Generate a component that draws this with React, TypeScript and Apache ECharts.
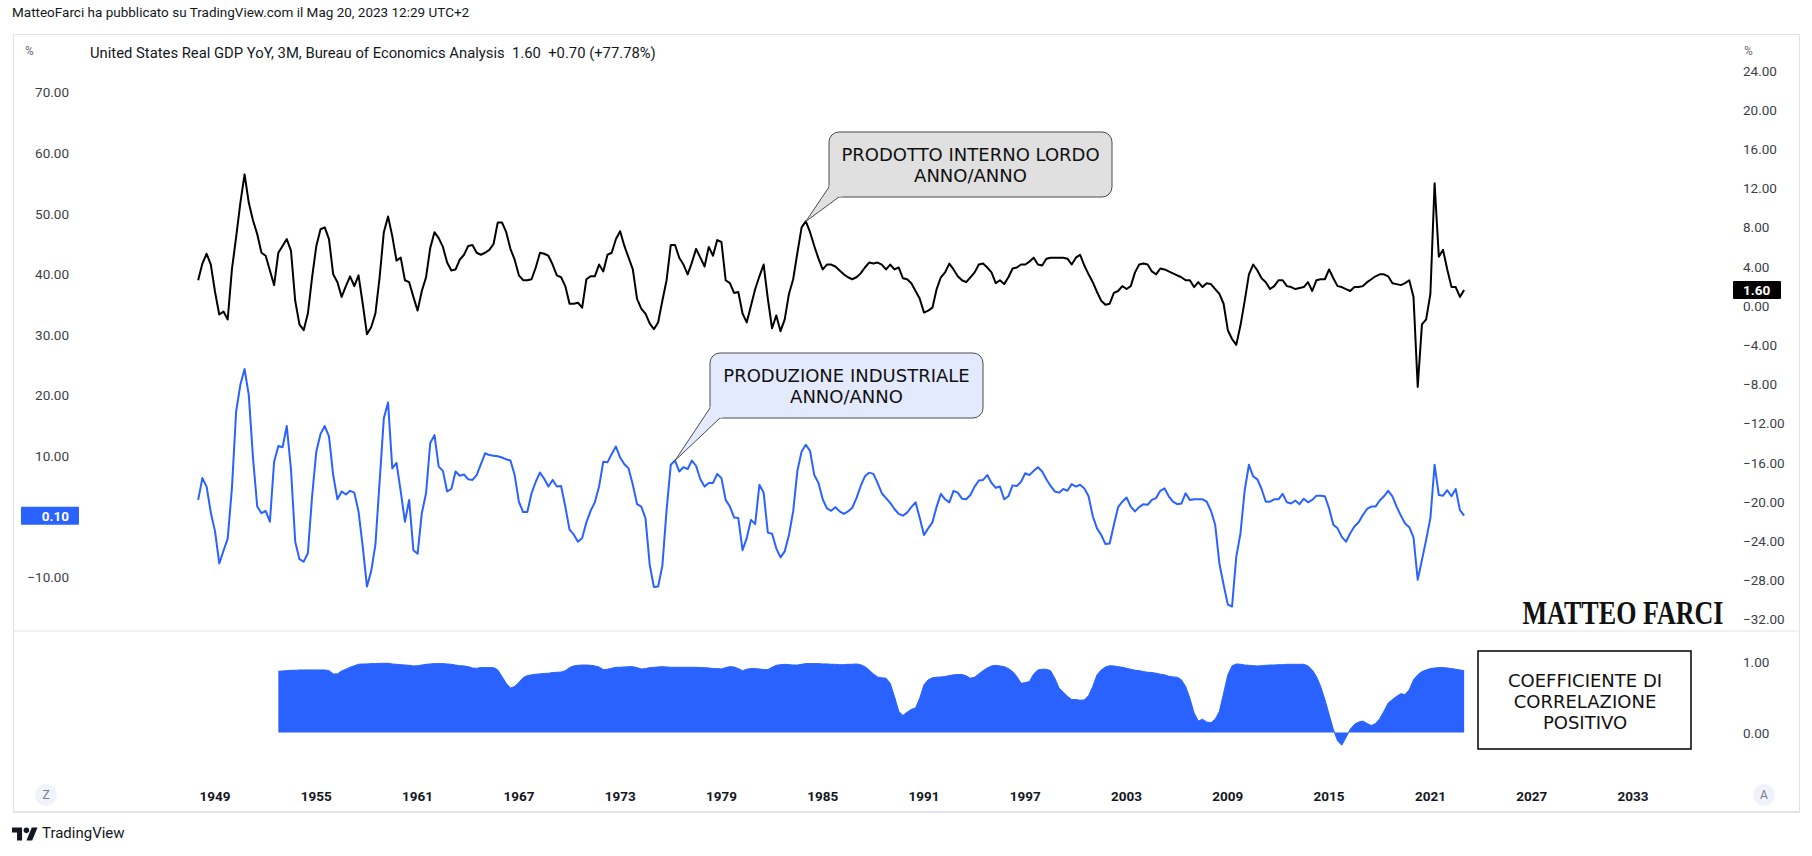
import React, { useEffect, useRef } from "react";
import * as echarts from "echarts";

// ---------- DATA (quarterly, first point = 1948 Q1) ----------
const START_YEAR = 1948;
const CORR_START_YEAR = 1952.75; // 1952 Q4

// United States Real GDP YoY (%), quarterly 1948 Q1 .. 2023 Q1
const gdpYoY: number[] = [
  2.6, 4.3, 5.3, 4.2, // 1948
  1.4, -0.9, -0.6, -1.4, // 1949
  3.7, 7.0, 10.5, 13.4, // 1950
  10.5, 8.7, 7.3, 5.4, // 1951
  5.1, 3.6, 2.1, 5.4, // 1952
  6.1, 6.8, 5.6, 0.5, // 1953
  -1.9, -2.5, -0.8, 2.9, // 1954
  6.1, 7.8, 8.0, 6.8, // 1955
  3.2, 2.4, 0.9, 2.0, // 1956
  3.0, 2.0, 3.1, 0.2, // 1957
  -2.9, -2.2, -0.8, 2.9, // 1958
  7.5, 9.1, 7.1, 4.6, // 1959
  4.9, 2.6, 2.4, 0.9, // 1960
  -0.5, 1.5, 2.9, 5.9, // 1961
  7.5, 6.9, 6.0, 4.4, // 1962
  3.6, 3.7, 4.7, 5.2, // 1963
  6.1, 6.2, 5.4, 5.2, // 1964
  5.4, 5.7, 6.3, 8.5, // 1965
  8.5, 7.5, 5.8, 4.7, // 1966
  3.1, 2.6, 2.6, 2.7, // 1967
  3.9, 5.4, 5.3, 5.1, // 1968
  4.2, 3.1, 2.9, 2.0, // 1969
  0.2, 0.2, 0.3, -0.2, // 1970
  2.7, 3.0, 3.0, 4.2, // 1971
  3.5, 5.2, 5.4, 6.8, // 1972
  7.6, 6.1, 4.9, 3.7, // 1973
  0.7, -0.3, -0.8, -1.8, // 1974
  -2.4, -1.7, 0.5, 2.6, // 1975
  6.2, 6.2, 4.9, 4.2, // 1976
  3.2, 4.4, 5.8, 4.9, // 1977
  4.0, 6.0, 5.1, 6.7, // 1978
  6.5, 2.6, 2.3, 1.3, // 1979
  1.4, -0.8, -1.7, 0.0, // 1980
  1.7, 3.0, 4.2, 0.7, // 1981
  -2.3, -1.0, -2.6, -1.4, // 1982
  1.2, 2.7, 5.4, 8.0, // 1983
  8.6, 7.5, 6.1, 4.8, // 1984
  3.7, 4.2, 4.2, 4.0, // 1985
  3.6, 3.2, 2.9, 2.7, // 1986
  2.9, 3.3, 3.9, 4.4, // 1987
  4.3, 4.4, 4.2, 3.7, // 1988
  4.2, 3.7, 3.9, 2.8, // 1989
  2.7, 2.3, 1.5, 0.7, // 1990
  -0.7, -0.5, -0.2, 1.7, // 1991
  2.9, 3.4, 4.3, 3.7, // 1992
  3.0, 2.6, 2.4, 2.9, // 1993
  3.4, 4.2, 4.3, 3.9, // 1994
  3.4, 2.3, 2.6, 2.2, // 1995
  2.9, 3.8, 3.9, 4.2, // 1996
  4.2, 4.5, 4.9, 4.2, // 1997
  4.1, 4.8, 4.9, 4.9, // 1998
  4.9, 4.9, 4.8, 4.2, // 1999
  4.9, 5.2, 4.1, 3.2, // 2000
  2.4, 1.4, 0.5, 0.1, // 2001
  0.2, 1.3, 1.5, 2.0, // 2002
  1.7, 2.0, 3.4, 4.2, // 2003
  4.3, 4.2, 3.5, 3.2, // 2004
  3.8, 3.7, 3.5, 3.3, // 2005
  3.1, 2.9, 2.6, 2.6, // 2006
  1.9, 2.4, 1.9, 2.3, // 2007
  2.2, 1.7, 1.2, 0.2, // 2008
  -2.5, -3.4, -4.0, -2.0, // 2009
  0.5, 3.2, 4.2, 3.6, // 2010
  2.8, 2.4, 1.7, 2.0, // 2011
  2.6, 2.6, 2.0, 1.9, // 2012
  1.7, 1.8, 1.9, 2.4, // 2013
  1.5, 2.6, 2.7, 2.7, // 2014
  3.7, 2.8, 2.0, 1.9, // 2015
  1.7, 1.5, 1.9, 1.9, // 2016
  2.0, 2.4, 2.7, 3.0, // 2017
  3.2, 3.2, 3.0, 2.3, // 2018
  2.2, 2.1, 2.3, 2.6, // 2019
  0.9, -8.3, -1.9, -1.4, // 2020
  1.2, 12.5, 5.0, 5.7, // 2021
  3.7, 1.9, 1.9, 0.9, // 2022
  1.6, // 2023
];

// US Industrial Production YoY (%), quarterly 1948 Q1 .. 2023 Q1
const ipYoY: number[] = [
  2.7, 6.3, 4.9, 0.6, // 1948
  -2.5, -7.8, -5.7, -3.7, // 1949
  4.6, 17.3, 21.7, 24.3, // 1950
  20.0, 9.6, 1.6, 0.5, // 1951
  0.9, -0.9, 9.0, 11.6, // 1952
  11.4, 14.9, 7.7, -4.2, // 1953
  -7.1, -7.5, -6.1, 3.3, // 1954
  10.7, 13.6, 14.9, 13.2, // 1955
  6.8, 2.8, 4.1, 3.6, // 1956
  4.2, 3.9, 0.8, -5.0, // 1957
  -11.6, -9.1, -4.7, 5.7, // 1958
  16.2, 18.8, 7.9, 8.8, // 1959
  4.1, -0.9, 2.7, -5.6, // 1960
  -6.2, 0.5, 3.8, 12.1, // 1961
  13.4, 8.2, 7.5, 4.1, // 1962
  4.5, 7.4, 6.7, 6.9, // 1963
  6.1, 6.0, 6.8, 8.6, // 1964
  10.4, 10.1, 10.0, 9.9, // 1965
  9.7, 9.4, 9.2, 6.8, // 1966
  2.4, 0.7, 0.7, 3.8, // 1967
  5.7, 7.2, 6.2, 4.9, // 1968
  6.0, 4.9, 5.0, 1.6, // 1969
  -2.2, -3.0, -4.2, -3.6, // 1970
  -1.0, 0.9, 2.3, 4.9, // 1971
  9.0, 8.9, 10.3, 11.5, // 1972
  9.7, 8.6, 7.9, 5.2, // 1973
  2.0, 1.6, -0.3, -8.0, // 1974
  -11.7, -11.6, -8.2, 1.0, // 1975
  8.5, 9.2, 7.4, 8.1, // 1976
  7.8, 9.2, 8.3, 6.1, // 1977
  4.9, 5.5, 5.5, 7.0, // 1978
  6.3, 2.7, 1.6, -0.2, // 1979
  -0.3, -5.6, -3.6, -0.6, // 1980
  -1.3, 5.2, 3.9, -2.7, // 1981
  -2.9, -5.3, -6.8, -5.8, // 1982
  -3.1, 0.8, 7.5, 10.7, // 1983
  11.8, 10.8, 6.8, 5.5, // 1984
  2.8, 1.3, 0.9, 1.5, // 1985
  0.8, 0.4, 0.8, 1.4, // 1986
  3.0, 5.0, 6.6, 7.2, // 1987
  7.0, 5.5, 3.8, 3.0, // 1988
  2.2, 1.2, 0.4, 0.1, // 1989
  0.6, 1.5, 2.3, -0.3, // 1990
  -3.1, -2.0, -1.0, 1.6, // 1991
  3.7, 2.8, 2.3, 4.2, // 1992
  3.9, 2.9, 2.8, 3.5, // 1993
  4.9, 5.9, 6.0, 6.8, // 1994
  5.5, 4.7, 4.9, 2.8, // 1995
  3.3, 5.1, 5.0, 5.7, // 1996
  7.1, 6.8, 7.5, 8.1, // 1997
  7.4, 6.1, 5.0, 4.1, // 1998
  3.9, 4.5, 4.2, 5.3, // 1999
  4.9, 5.2, 4.6, 3.3, // 2000
  0.0, -2.0, -3.1, -4.6, // 2001
  -4.5, -1.4, 1.5, 2.4, // 2002
  3.1, 1.6, 0.8, 1.5, // 2003
  2.0, 1.9, 2.7, 3.0, // 2004
  4.2, 4.6, 3.3, 2.4, // 2005
  2.0, 2.1, 3.8, 2.7, // 2006
  2.8, 2.8, 2.8, 2.4, // 2007
  0.9, -1.4, -7.8, -11.3, // 2008
  -14.6, -14.9, -6.7, -2.8, // 2009
  4.3, 8.5, 6.6, 6.1, // 2010
  4.5, 2.4, 2.4, 2.8, // 2011
  2.8, 3.7, 2.3, 2.1, // 2012
  2.6, 2.0, 2.9, 2.3, // 2013
  2.7, 3.4, 3.4, 3.3, // 2014
  1.3, -1.4, -2.0, -3.4, // 2015
  -4.2, -2.8, -1.7, -1.0, // 2016
  0.2, 1.2, 1.6, 1.6, // 2017
  2.6, 3.3, 4.2, 3.3, // 2018
  1.6, 0.1, -1.2, -1.8, // 2019
  -3.5, -10.5, -7.2, -3.9, // 2020
  -0.3, 8.5, 3.5, 3.4, // 2021
  4.3, 3.3, 4.5, 1.0, // 2022
  0.1, // 2023
];

// Correlation coefficient (GDP vs IP), quarterly 1952 Q4 .. 2023 Q1
const corrCoef: number[] = [
  0.872, // 1952 Q4
  0.876, 0.88, 0.885, 0.885, // 1953
  0.89, 0.89, 0.89, 0.89, // 1954
  0.89, 0.89, 0.89, 0.88, // 1955
  0.834, 0.834, 0.876, 0.9, // 1956
  0.928, 0.95, 0.97, 0.975, // 1957
  0.975, 0.98, 0.98, 0.984, // 1958
  0.984, 0.984, 0.975, 0.97, // 1959
  0.965, 0.96, 0.956, 0.947, // 1960
  0.95, 0.96, 0.97, 0.975, // 1961
  0.98, 0.98, 0.98, 0.975, // 1962
  0.97, 0.96, 0.95, 0.947, // 1963
  0.937, 0.918, 0.914, 0.923, // 1964
  0.923, 0.923, 0.923, 0.89, // 1965
  0.797, 0.7, 0.633, 0.656, // 1966
  0.712, 0.78, 0.81, 0.82, // 1967
  0.83, 0.834, 0.84, 0.843, // 1968
  0.853, 0.857, 0.86, 0.88, // 1969
  0.923, 0.947, 0.956, 0.96, // 1970
  0.96, 0.956, 0.947, 0.932, // 1971
  0.895, 0.9, 0.914, 0.928, // 1972
  0.928, 0.932, 0.937, 0.937, // 1973
  0.923, 0.904, 0.909, 0.923, // 1974
  0.928, 0.932, 0.937, 0.932, // 1975
  0.928, 0.928, 0.928, 0.928, // 1976
  0.928, 0.928, 0.928, 0.923, // 1977
  0.923, 0.918, 0.909, 0.909, // 1978
  0.904, 0.923, 0.937, 0.932, // 1979
  0.909, 0.88, 0.9, 0.909, // 1980
  0.909, 0.904, 0.895, 0.895, // 1981
  0.928, 0.956, 0.965, 0.97, // 1982
  0.965, 0.96, 0.96, 0.97, // 1983
  0.98, 0.98, 0.98, 0.98, // 1984
  0.975, 0.975, 0.97, 0.97, // 1985
  0.965, 0.965, 0.97, 0.97, // 1986
  0.975, 0.965, 0.937, 0.89, // 1987
  0.834, 0.79, 0.778, 0.773, // 1988
  0.7, 0.515, 0.305, 0.244, // 1989
  0.29, 0.33, 0.35, 0.49, // 1990
  0.68, 0.75, 0.778, 0.787, // 1991
  0.79, 0.797, 0.81, 0.82, // 1992
  0.825, 0.825, 0.806, 0.773, // 1993
  0.787, 0.834, 0.88, 0.918, // 1994
  0.947, 0.956, 0.947, 0.937, // 1995
  0.909, 0.867, 0.797, 0.7, // 1996
  0.71, 0.726, 0.834, 0.89, // 1997
  0.9, 0.9, 0.88, 0.773, // 1998
  0.633, 0.576, 0.515, 0.469, // 1999
  0.469, 0.46, 0.464, 0.525, // 2000
  0.656, 0.82, 0.89, 0.932, // 2001
  0.95, 0.947, 0.937, 0.928, // 2002
  0.914, 0.9, 0.886, 0.88, // 2003
  0.867, 0.857, 0.853, 0.843, // 2004
  0.83, 0.82, 0.8, 0.79, // 2005
  0.787, 0.75, 0.656, 0.49, // 2006
  0.28, 0.164, 0.19, 0.15, // 2007
  0.14, 0.19, 0.3, 0.56, // 2008
  0.82, 0.947, 0.975, 0.97, // 2009
  0.96, 0.956, 0.95, 0.947, // 2010
  0.95, 0.956, 0.96, 0.96, // 2011
  0.965, 0.965, 0.97, 0.97, // 2012
  0.97, 0.97, 0.97, 0.947, // 2013
  0.89, 0.797, 0.656, 0.47, // 2014
  0.258, 0.047, -0.117, -0.178, // 2015
  -0.07, 0.047, 0.117, 0.15, // 2016
  0.164, 0.13, 0.1, 0.13, // 2017
  0.197, 0.305, 0.42, 0.47, // 2018
  0.515, 0.553, 0.54, 0.61, // 2019
  0.75, 0.82, 0.867, 0.89, // 2020
  0.909, 0.918, 0.923, 0.923, // 2021
  0.918, 0.909, 0.9, 0.89, // 2022
  0.88, // 2023
];

const yearLabels: number[] = [1949, 1955, 1961, 1967, 1973, 1979, 1985, 1991, 1997, 2003, 2009, 2015, 2021, 2027, 2033];
const gdpAxisTicks = { min: -32, max: 24, step: 4 };
const ipAxisTicks = { min: -10, max: 70, step: 10 };
const corrAxisTicks = { min: 0, max: 1, step: 1 };

const headerText = "MatteoFarci ha pubblicato su TradingView.com il Mag 20, 2023 12:29 UTC+2";
const seriesTitle = "United States Real GDP YoY, 3M, Bureau of Economics Analysis";
const gdpCalloutText = "PRODOTTO INTERNO LORDO\nANNO/ANNO";
const ipCalloutText = "PRODUZIONE INDUSTRIALE\nANNO/ANNO";
const corrBoxText = "COEFFICIENTE DI\nCORRELAZIONE\nPOSITIVO";
const watermarkText = "MATTEO FARCI";
const GDP_CALLOUT_Q = 144; // 1984 Q1
const IP_CALLOUT_Q = 113; // 1976 Q2

// ---------- helpers ----------
const toPoints = (vals: number[], start: number) => vals.map((v, i) => [start + i / 4, v]);
const fmt = (v: number) => (v < 0 ? "\u2212" + Math.abs(v).toFixed(2) : v.toFixed(2));

const FONT = "Roboto, 'Noto Sans', sans-serif";
const CALLOUT_FONT = "'DejaVu Sans', Verdana, sans-serif";

const X_MIN = 1941;
const X_MAX = 2038.75;
const GRID_LEFT = 80;
const GRID_WIDTH = 1650;

function textEl(text: string, x: number, y: number, opts: any = {}) {
  const align = opts.align || "left";
  const valign = opts.valign || "middle";
  return {
    type: "text",
    x,
    y,
    z: 100,
    scaleX: opts.scaleX || 1,
    style: {
      text,
      fill: opts.color || "#131722",
      fontSize: opts.size || 13,
      fontFamily: opts.family || FONT,
      fontWeight: opts.weight || "normal",
      textAlign: align,
      align,
      textVerticalAlign: valign,
      verticalAlign: valign,
      lineHeight: opts.lineHeight,
    },
  };
}

export default function App() {
  const ref = useRef<HTMLDivElement>(null);

  useEffect(() => {
    document.body.style.margin = "0";
    if (!ref.current) return;
    const chart = echarts.init(ref.current, null, { renderer: "svg" });

    const axisLabelBase = {
      color: "#3b3e47",
      fontSize: 13.5,
      fontFamily: FONT,
      formatter: (v: number) => fmt(v),
    };
    const hidden = { show: false };

    const option: any = {
      animation: false,
      backgroundColor: "#ffffff",
      grid: [
        { left: GRID_LEFT, width: GRID_WIDTH, top: 70.5, height: 548.8 },
        { left: GRID_LEFT, width: GRID_WIDTH, top: 92.4, height: 484.4 },
        { left: GRID_LEFT, width: GRID_WIDTH, top: 662.2, height: 70.4 },
      ],
      xAxis: [0, 1, 2].map((g) => ({
        type: "value",
        gridIndex: g,
        min: X_MIN,
        max: X_MAX,
        interval: 1,
        axisLine: hidden,
        axisTick: hidden,
        splitLine: hidden,
        axisLabel:
          g === 2
            ? {
                show: true,
                margin: 56,
                color: "#131722",
                fontSize: 13.5,
                fontWeight: "bold",
                fontFamily: FONT,
                formatter: (v: number) => (yearLabels.indexOf(v) >= 0 ? String(v) : ""),
              }
            : hidden,
      })),
      yAxis: [
        {
          type: "value",
          gridIndex: 0,
          position: "right",
          min: gdpAxisTicks.min,
          max: gdpAxisTicks.max,
          interval: gdpAxisTicks.step,
          axisLine: hidden,
          axisTick: hidden,
          splitLine: hidden,
          axisLabel: { ...axisLabelBase, margin: 13 },
        },
        {
          type: "value",
          gridIndex: 1,
          position: "left",
          min: ipAxisTicks.min,
          max: ipAxisTicks.max,
          interval: ipAxisTicks.step,
          axisLine: hidden,
          axisTick: hidden,
          splitLine: hidden,
          axisLabel: { ...axisLabelBase, margin: 11 },
        },
        {
          type: "value",
          gridIndex: 2,
          position: "right",
          min: corrAxisTicks.min,
          max: corrAxisTicks.max,
          interval: corrAxisTicks.step,
          axisLine: hidden,
          axisTick: hidden,
          splitLine: hidden,
          axisLabel: { ...axisLabelBase, margin: 13 },
        },
      ],
      series: [
        {
          name: "GDP YoY",
          type: "line",
          xAxisIndex: 0,
          yAxisIndex: 0,
          data: toPoints(gdpYoY, START_YEAR),
          symbol: "none",
          clip: false,
          silent: true,
          z: 4,
          lineStyle: { color: "#000000", width: 2, join: "round" },
        },
        {
          name: "IP YoY",
          type: "line",
          xAxisIndex: 1,
          yAxisIndex: 1,
          data: toPoints(ipYoY, START_YEAR),
          symbol: "none",
          clip: false,
          silent: true,
          z: 3,
          lineStyle: { color: "#2962ff", width: 2, join: "round" },
        },
        {
          name: "Correlation",
          type: "line",
          xAxisIndex: 2,
          yAxisIndex: 2,
          data: toPoints(corrCoef, CORR_START_YEAR),
          symbol: "none",
          clip: false,
          silent: true,
          z: 3,
          lineStyle: { color: "#2962ff", width: 1 },
          areaStyle: { color: "#2962ff", opacity: 1, origin: 0 },
        },
      ],
    };
    chart.setOption(option);

    // --- computed positions through the chart's own scales ---
    const gdpTip = chart.convertToPixel({ gridIndex: 0 } as any, [START_YEAR + GDP_CALLOUT_Q / 4, gdpYoY[GDP_CALLOUT_Q]]) as number[];
    const ipTip = chart.convertToPixel({ gridIndex: 1 } as any, [START_YEAR + IP_CALLOUT_Q / 4, ipYoY[IP_CALLOUT_Q]]) as number[];
    const lastGdp = gdpYoY[gdpYoY.length - 1];
    const prevGdp = gdpYoY[gdpYoY.length - 2];
    const lastIp = ipYoY[ipYoY.length - 1];
    const gdpLastY = (chart.convertToPixel({ gridIndex: 0 } as any, [2023, lastGdp]) as number[])[1];
    const ipLastY = (chart.convertToPixel({ gridIndex: 1 } as any, [2023, lastIp]) as number[])[1];
    const chg = lastGdp - prevGdp;
    const chgPct = (chg / prevGdp) * 100;
    const legendText = `${seriesTitle}  ${lastGdp.toFixed(2)}  ${chg >= 0 ? "+" : "\u2212"}${Math.abs(chg).toFixed(2)} (${chgPct >= 0 ? "+" : "\u2212"}${Math.abs(chgPct).toFixed(2)}%)`;

    const callout = (L: number, T: number, R: number, B: number, tip: number[], fill: string, text: string) => {
      const A = [L, B - 10];
      const Bp = [L + 10, B];
      const C = [L + 14, B - 12];
      const stroke = "#4a4a4a";
      return [
        { type: "rect", z: 100, shape: { x: L, y: T, width: R - L, height: B - T, r: 10 }, style: { fill, stroke, lineWidth: 1 } },
        { type: "polygon", z: 101, shape: { points: [tip, A, [L + 1, B - 12], C, [L + 14, B - 1], Bp] }, style: { fill, stroke: fill, lineWidth: 0 } },
        { type: "line", z: 102, shape: { x1: tip[0], y1: tip[1], x2: A[0], y2: A[1] }, style: { stroke, lineWidth: 1 } },
        { type: "line", z: 102, shape: { x1: tip[0], y1: tip[1], x2: Bp[0], y2: Bp[1] }, style: { stroke, lineWidth: 1 } },
        textEl(text, (L + R) / 2, (T + B) / 2, { align: "center", size: 18, family: CALLOUT_FONT, color: "#111111", lineHeight: 21 }),
      ];
    };

    const s = 0.72;
    const lx = 12;
    const ly = 824.6;
    const P = (pts: number[][]) => pts.map((p) => [lx + p[0] * s, ly + p[1] * s]);

    const graphics: any[] = [
      // frame
      { type: "rect", z: 90, shape: { x: 13.5, y: 34.5, width: 1786, height: 777 }, style: { fill: "none", stroke: "#e0e3eb", lineWidth: 1 } },
      { type: "line", z: 90, shape: { x1: 13, y1: 812, x2: 1800, y2: 812 }, style: { stroke: "#e0e3eb", lineWidth: 2 } },
      { type: "line", z: 90, shape: { x1: 13, y1: 631, x2: 1800, y2: 631 }, style: { stroke: "#e0e3eb", lineWidth: 1 } },
      // header and legend
      textEl(headerText, 12, 12, { size: 13.5 }),
      textEl("%", 25, 51, { size: 12, color: "#6a6d78" }),
      textEl("%", 1744, 51, { size: 12, color: "#6a6d78" }),
      textEl(legendText, 90, 53, { size: 14.8 }),
      // last value labels
      { type: "rect", z: 100, shape: { x: 21, y: ipLastY - 9, width: 58, height: 18, r: 1 }, style: { fill: "#2962ff" } },
      textEl(lastIp.toFixed(2), 69, ipLastY, { align: "right", color: "#ffffff", weight: "bold", size: 13.5 }),
      { type: "rect", z: 100, shape: { x: 1733, y: gdpLastY - 9, width: 48, height: 18, r: 1 }, style: { fill: "#000000" } },
      textEl(lastGdp.toFixed(2), 1743, gdpLastY, { color: "#ffffff", weight: "bold", size: 13.5 }),
      // callouts
      ...callout(829, 132, 1112, 197, gdpTip, "#e0e0e0", gdpCalloutText),
      ...callout(710, 353, 983, 418, ipTip, "#e3eafd", ipCalloutText),
      // correlation box
      { type: "rect", z: 100, shape: { x: 1478, y: 651, width: 213, height: 98 }, style: { fill: "#ffffff", stroke: "#000000", lineWidth: 1.5 } },
      textEl(corrBoxText, 1585, 701, { align: "center", size: 18, family: CALLOUT_FONT, color: "#111111", lineHeight: 21 }),
      // watermark
      textEl(watermarkText, 1623, 613, { align: "center", size: 33, family: "'Liberation Serif', 'DejaVu Serif', serif", weight: "bold", color: "#111111", scaleX: 0.79 }),
      // Z / A buttons
      { type: "circle", z: 100, shape: { cx: 46, cy: 795, r: 11 }, style: { fill: "#f0f3fa" } },
      textEl("Z", 46, 795, { align: "center", color: "#787b86", size: 12 }),
      { type: "circle", z: 100, shape: { cx: 1764, cy: 795, r: 11 }, style: { fill: "#f0f3fa" } },
      textEl("A", 1764, 795, { align: "center", color: "#787b86", size: 12 }),
      // TradingView logo
      { type: "polygon", z: 100, shape: { points: P([[0, 4], [14, 4], [14, 22], [7, 22], [7, 11], [0, 11]]) }, style: { fill: "#131722" } },
      { type: "polygon", z: 100, shape: { points: P([[20, 22], [27.5, 4], [35.5, 4], [28, 22]]) }, style: { fill: "#131722" } },
      { type: "circle", z: 100, shape: { cx: lx + 20 * s, cy: ly + 8 * s, r: 4 * s }, style: { fill: "#131722" } },
      textEl("TradingView", 42, 833, { size: 15, color: "#131722" }),
    ];

    chart.setOption({ graphic: { elements: graphics } });

    return () => {
      chart.dispose();
    };
  }, []);

  return <div ref={ref} style={{ width: 1812, height: 856 }} />;
}
